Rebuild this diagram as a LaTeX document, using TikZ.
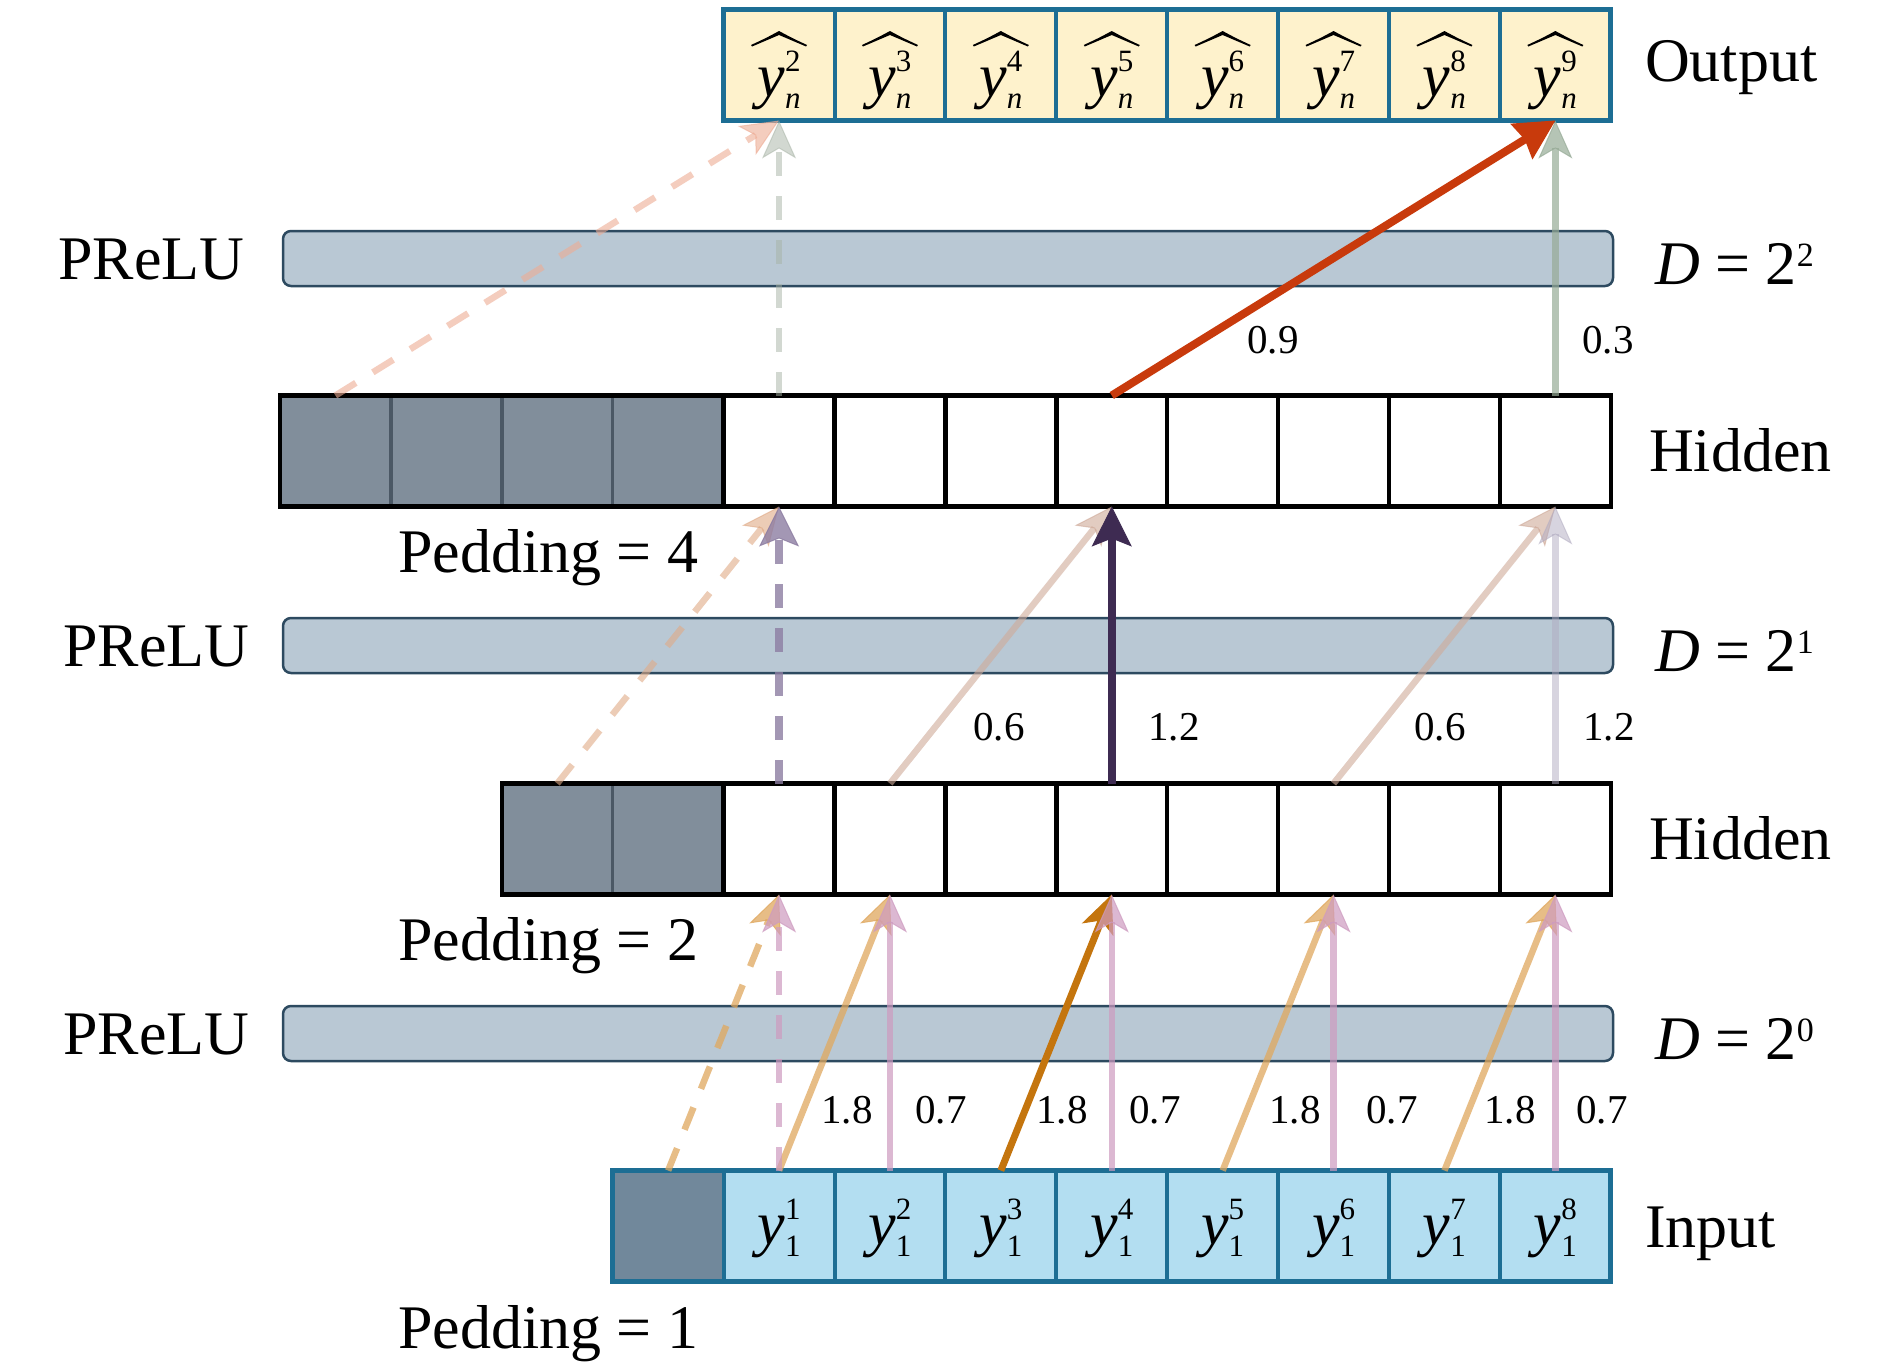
\documentclass[tikz,border=0pt]{standalone}
\usepackage{fontspec}
\setmainfont{Liberation Serif}
\usetikzlibrary{arrows.meta,calc}
\definecolor{blueedge}{HTML}{1D6E94}
\definecolor{infill}{HTML}{B3DEF1}
\definecolor{outfill}{HTML}{FEF2CC}
\definecolor{padfill}{HTML}{818E9B}
\definecolor{padedge}{HTML}{4B5865}
\definecolor{ipadfill}{HTML}{71889B}
\definecolor{ipadedge}{HTML}{5B6E7E}
\definecolor{barfill}{HTML}{B9C8D4}
\definecolor{baredge}{HTML}{2D4A60}
\definecolor{orL}{HTML}{E0A85E}
\definecolor{orD}{HTML}{C4750E}
\definecolor{pkL}{HTML}{CE9BC0}
\definecolor{brL}{HTML}{CFAA99}
\definecolor{peL}{HTML}{E0AA86}
\definecolor{puM}{HTML}{8D7DA2}
\definecolor{puD}{HTML}{3E2B52}
\definecolor{lvL}{HTML}{B1ABC1}
\definecolor{saL}{HTML}{EEAC94}
\definecolor{ggL}{HTML}{A7B3A5}
\definecolor{ggM}{HTML}{97AB97}
\definecolor{rdD}{HTML}{C83A0C}
\newcommand{\ylab}[2]{\textit{y}\rlap{\raisebox{25pt}{\fontsize{31}{31}\selectfont #1}}{\fontsize{31}{31}\selectfont\raisebox{-12pt}{#2}}}
\tikzset{
  cellbase/.style={rectangle, minimum width=110.9pt, minimum height=111pt, inner sep=0pt, outer sep=0pt},
  hcell/.style={cellbase, draw=black, fill=white, line width=4.5pt},
  hpad/.style={cellbase, draw=padedge, fill=padfill, line width=3.5pt},
  icell/.style={cellbase, draw=blueedge, fill=infill, line width=4pt},
  ipad/.style={cellbase, draw=ipadedge, fill=ipadfill, line width=3.5pt},
  ocell/.style={cellbase, draw=blueedge, fill=outfill, line width=4pt},
  bar/.style={rectangle, rounded corners=8pt, draw=baredge, fill=barfill, line width=2.5pt, minimum width=1330pt, minimum height=55pt, inner sep=0pt},
  lab/.style={font=\fontsize{62}{70}\selectfont, inner sep=0pt, anchor=base west},
  cl/.style={font=\fontsize{62}{70}\selectfont, inner sep=0pt, anchor=base},
  num/.style={font=\fontsize{41}{48}\selectfont, inner sep=0pt, anchor=base},
  arr/.style={-{Stealth[length=38pt,width=34pt,inset=10pt,line width=1pt]}, line width=6.5pt},
  arrbig/.style={-{Stealth[length=40pt,width=40pt,inset=8pt,line width=1pt]}, line width=8pt},
  dsh/.style={dash pattern=on 24pt off 20pt},
}
\begin{document}
\begin{tikzpicture}[x=1pt,y=-1pt]
\useasboundingbox (0,0) rectangle (1890,1366);
\fill[white] (0,0) rectangle (1890,1366);

% PReLU bars
\node[bar] (r1) at (948,258.5) {};
\node[bar] (r2) at (948,645.5) {};
\node[bar] (r3) at (948,1033.5) {};

% output row
\foreach \i in {5,...,12} \node[ocell] (o\i) at ({280+(\i-0.5)*110.9},65) {};
\draw[blueedge,line width=5pt] (o5.south west) rectangle (o12.north east);

% hidden top row
\foreach \i in {1,...,4} \node[hpad] (t\i) at ({280+(\i-0.5)*110.9},451) {};
\foreach \i in {5,...,12} \node[hcell] (t\i) at ({280+(\i-0.5)*110.9},451) {};
\draw[line width=4.5pt] (t1.south west) rectangle (t12.north east);

% hidden bottom row
\foreach \i in {3,4} \node[hpad] (b\i) at ({280+(\i-0.5)*110.9},839) {};
\foreach \i in {5,...,12} \node[hcell] (b\i) at ({280+(\i-0.5)*110.9},839) {};
\draw[line width=4.5pt] (b3.south west) rectangle (b12.north east);

% input row
\node[ipad] (i4) at ({280+3.5*110.9},1226) {};
\foreach \i in {5,...,12} \node[icell] (i\i) at ({280+(\i-0.5)*110.9},1226) {};
\draw[blueedge,line width=5pt] (i4.south west) rectangle (i12.north east);

% cell labels
\foreach \i in {5,...,12} {
  \pgfmathtruncatemacro\s{\i-4}
  \node[cl] (yi\i) at ([yshift=-18.5pt]i\i.center) {\ylab{\s}{1}};
}
\foreach \i in {5,...,12} {
  \pgfmathtruncatemacro\s{\i-3}
  \node[cl] (yo\i) at ([yshift=-31.5pt]o\i.center) {\ylab{\s}{\textit{n}}};
  \begin{scope}[shift={(o\i.center)}]
    \fill[black] (-28,-20) .. controls (-13,-27) .. (0,-34) .. controls (13,-27) .. (28,-20)
      -- (27,-18.5) .. controls (13,-24) .. (0,-30) .. controls (-13,-24) .. (-27,-18.5) -- cycle;
  \end{scope}
}

% layer 1 (D = 2^0)
\draw[arr, orL, opacity=.75, dsh] (i4.north) -- (b5.south);
\draw[arr, orL, opacity=.75] (i5.north) -- (b6.south);
\draw[arr, orD, line width=7pt] (i7.north) -- (b8.south);
\draw[arr, orL, opacity=.75] (i9.north) -- (b10.south);
\draw[arr, orL, opacity=.75] (i11.north) -- (b12.south);
\draw[arr, pkL, opacity=.7, dsh] (i5.north) -- (b5.south);
\draw[arr, pkL, opacity=.7] (i6.north) -- (b6.south);
\draw[arr, pkL, opacity=.7] (i8.north) -- (b8.south);
\draw[arr, pkL, opacity=.7] (i10.north) -- (b10.south);
\draw[arr, pkL, opacity=.7] (i12.north) -- (b12.south);

% layer 2 (D = 2^1)
\draw[arr, peL, opacity=.6, dsh] (b3.north) -- (t5.south);
\draw[arr, brL, opacity=.6] (b6.north) -- (t8.south);
\draw[arr, brL, opacity=.6] (b10.north) -- (t12.south);
\draw[arrbig, puM, opacity=.8, dsh] (b5.north) -- (t5.south);
\draw[arrbig, puD] (b8.north) -- (t8.south);
\draw[arr, lvL, opacity=.5] (b12.north) -- (t12.south);

% layer 3 (D = 2^2)
\draw[arr, saL, opacity=.6, dsh] (t1.north) -- (o5.south);
\draw[arr, ggL, opacity=.5, dsh] (t5.north) -- (o5.south);
\draw[arr, ggM, opacity=.7] (t12.north) -- (o12.south);
\draw[-{Stealth[length=40pt,width=42pt,inset=4pt,line width=1pt]}, rdD, line width=8pt] (t8.north) -- (o12.south);

% weights
\node[num] (w1) at (1273,353) {0.9};
\node[num] (w2) at (1608,353) {0.3};
\node[num] (w3) at (999,740) {0.6};
\node[num] (w4) at (1174,740) {1.2};
\node[num] (w5) at (1440,740) {0.6};
\node[num] (w6) at (1609,740) {1.2};
\node[num] (w7) at (847,1123) {1.8};
\node[num] (w8) at (941,1123) {0.7};
\node[num] (w9) at (1062,1123) {1.8};
\node[num] (w10) at (1155,1123) {0.7};
\node[num] (w11) at (1295,1123) {1.8};
\node[num] (w12) at (1392,1123) {0.7};
\node[num] (w13) at (1510,1123) {1.8};
\node[num] (w14) at (1602,1123) {0.7};

% side labels
\node[lab] (lout) at (1645,81) {Output};
\node[lab] (lh1) at (1649,471.5) {Hidden};
\node[lab] (lh2) at (1649,859.5) {Hidden};
\node[lab] (lin) at (1645,1247) {Input};
\node[lab] (lp1) at (58,279) {PReLU};
\node[lab] (lp2) at (63,666) {PReLU};
\node[lab] (lp3) at (63,1054) {PReLU};
\node[lab] (ld1) at (1655,284) {\textit{D} = 2\raisebox{18pt}{\fontsize{34}{34}\selectfont 2}};
\node[lab] (ld2) at (1655,671) {\textit{D} = 2\raisebox{18pt}{\fontsize{34}{34}\selectfont 1}};
\node[lab] (ld3) at (1655,1059) {\textit{D} = 2\raisebox{18pt}{\fontsize{34}{34}\selectfont 0}};
\node[lab] (lpad4) at (398,572) {Pedding = 4};
\node[lab] (lpad2) at (398,960) {Pedding = 2};
\node[lab] (lpad1) at (398,1348) {Pedding = 1};
\end{tikzpicture}
\end{document}
